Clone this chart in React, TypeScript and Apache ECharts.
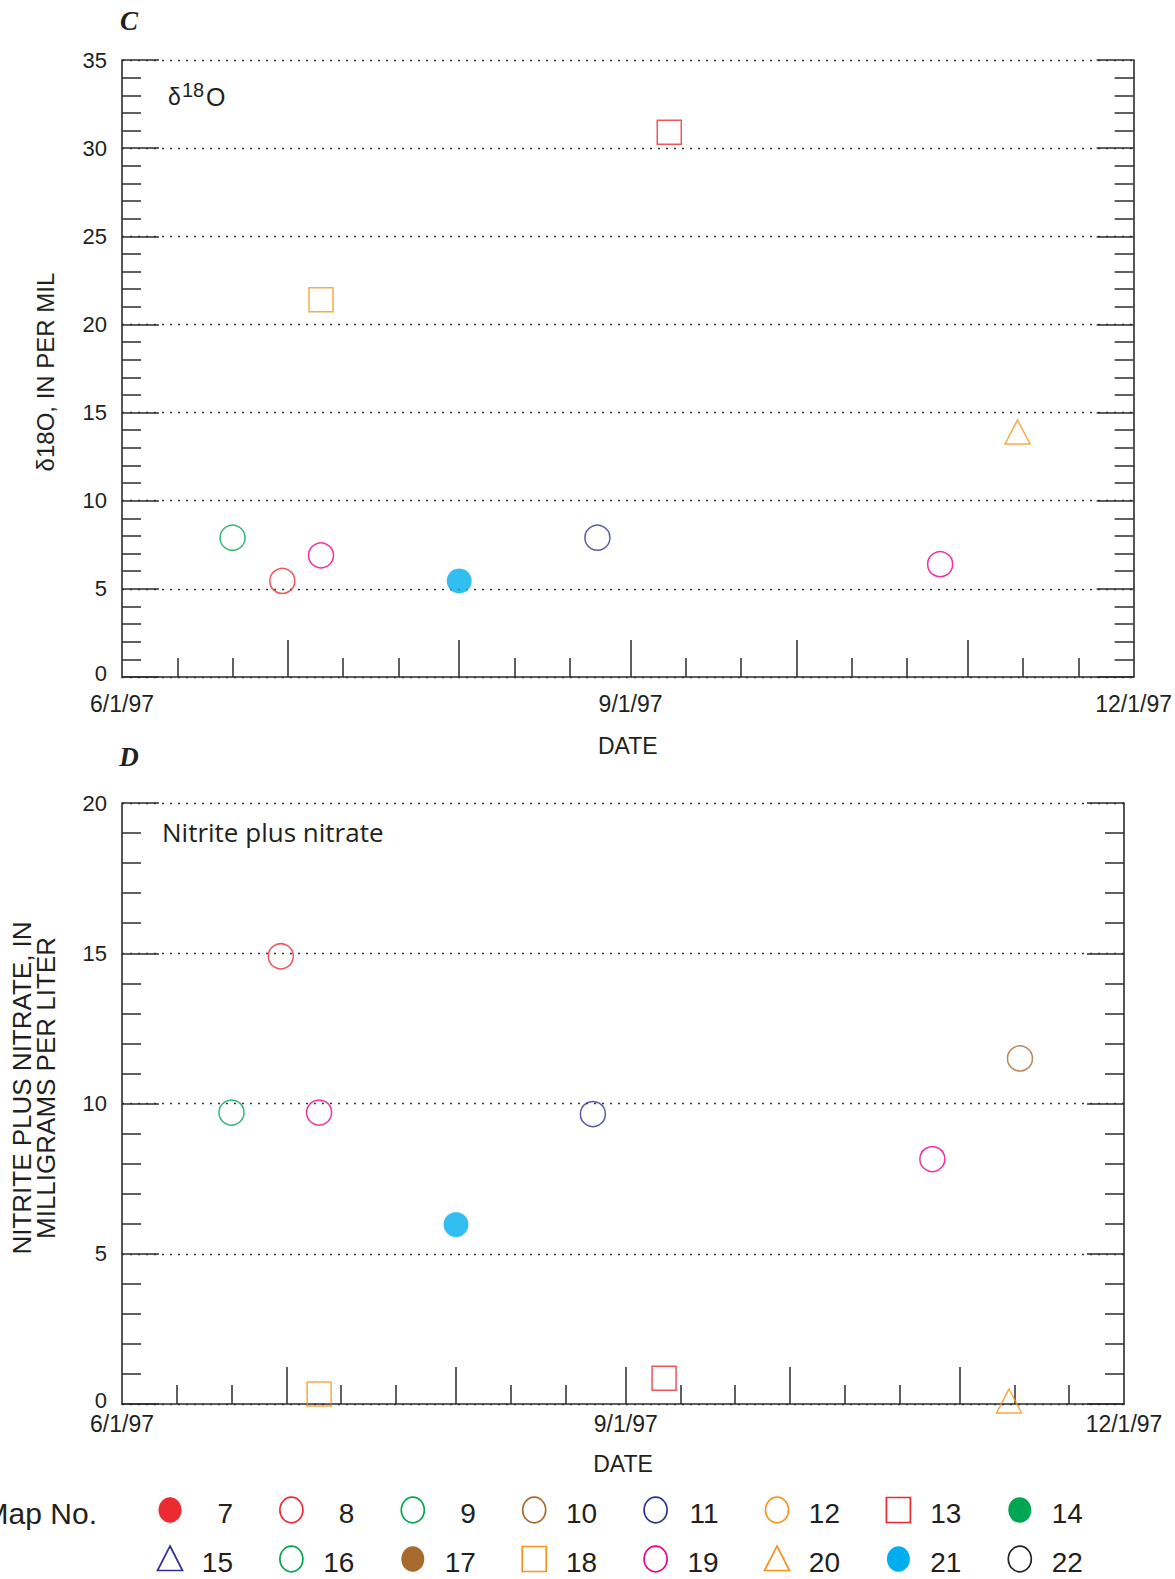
import React, { useEffect, useRef } from 'react';
import * as echarts from 'echarts';

const FONT = '"Liberation Sans", Arial, Helvetica, sans-serif';
const WIDE = '"Open Sans", "Liberation Sans", Arial, sans-serif';
const SERIF = '"Liberation Serif", "Times New Roman", serif';
const INK = '#231f20';
const RULE = '#2b2b2b';

// Date axis extent and tick positions
const dateStart = '1997-06-01';
const dateEnd = '1997-12-01';
const monthTicks = ['1997-07-01', '1997-08-01', '1997-09-01', '1997-10-01', '1997-11-01'];
const tenDayTicks = [
  '1997-06-11', '1997-06-21', '1997-07-11', '1997-07-21', '1997-08-11', '1997-08-21',
  '1997-09-11', '1997-09-21', '1997-10-11', '1997-10-21', '1997-11-11', '1997-11-21',
];
const dateLabels = ['1997-06-01', '1997-09-01', '1997-12-01'];

// Sampling sites (map numbers) and their symbols
const mapNumbers = [7, 8, 9, 10, 11, 12, 13, 14, 15, 16, 17, 18, 19, 20, 21, 22];
const mapColors = [
  '#ec2a30', '#ec2a30', '#00a651', '#a8692e', '#2e3192', '#f7941d', '#ec2a30', '#00a651',
  '#2e3192', '#00a651', '#a8692e', '#f7941d', '#ec008c', '#f7941d', '#00aeef', '#231f20',
];
const mapShapes = [
  'circle', 'circle', 'circle', 'circle', 'circle', 'circle', 'rect', 'circle',
  'triangle', 'circle', 'circle', 'rect', 'circle', 'triangle', 'circle', 'circle',
];
const mapFilled = [
  true, false, false, false, false, false, false, true,
  false, false, true, false, false, false, true, false,
];

// Panel C: delta oxygen-18, per mil
const o18MapNo = [9, 8, 18, 19, 21, 11, 13, 19, 20];
const o18Dates = [
  '1997-06-21', '1997-06-30', '1997-07-07', '1997-07-07', '1997-08-01',
  '1997-08-26', '1997-09-08', '1997-10-27', '1997-11-10',
];
const o18Values = [7.9, 5.45, 21.4, 6.9, 5.45, 7.9, 30.9, 6.4, 13.9];

// Panel D: nitrite plus nitrate, mg/L
const no3MapNo = [9, 8, 18, 19, 21, 11, 13, 19, 20, 10];
const no3Dates = [
  '1997-06-21', '1997-06-30', '1997-07-07', '1997-07-07', '1997-08-01',
  '1997-08-26', '1997-09-08', '1997-10-27', '1997-11-10', '1997-11-12',
];
const no3Values = [9.7, 14.9, 0.33, 9.7, 5.97, 9.65, 0.86, 8.15, 0.1, 11.5];

const ts = (d: string) => {
  const [y, m, dd] = d.split('-').map(Number);
  return Date.UTC(y, m - 1, dd);
};
const fmtDate = (v: number) => {
  const d = new Date(v);
  return `${d.getUTCMonth() + 1}/${d.getUTCDate()}/${String(d.getUTCFullYear()).slice(2)}`;
};

const tickLine = { color: RULE, width: 1.5 };

function dateAxes(grid: number, labelMargin: number, nameGap: number) {
  const base = {
    type: 'value',
    gridIndex: grid,
    min: ts(dateStart),
    max: ts(dateEnd),
    position: 'bottom',
    splitLine: { show: false },
  };
  return [
    {
      ...base,
      axisLine: { show: true, onZero: false, lineStyle: { color: RULE, width: 1.6 } },
      axisTick: { show: true, inside: true, length: 37, customValues: monthTicks.map(ts), lineStyle: tickLine },
      axisLabel: {
        show: true,
        customValues: dateLabels.map(ts),
        formatter: (v: number) => fmtDate(v),
        margin: labelMargin,
        fontSize: 23,
        fontFamily: FONT,
        color: INK,
        showMinLabel: true,
        showMaxLabel: true,
      },
      name: 'DATE',
      nameLocation: 'middle',
      nameGap,
      nameTextStyle: { fontSize: 23, fontFamily: FONT, color: INK },
    },
    {
      ...base,
      axisLine: { show: false },
      axisTick: { show: true, inside: true, length: 19, customValues: tenDayTicks.map(ts), lineStyle: tickLine },
      axisLabel: { show: false },
    },
  ];
}

function valueAxes(grid: number, max: number) {
  const ticks = {
    axisTick: { show: true, inside: true, length: 37, lineStyle: tickLine },
    minorTick: { show: true, splitNumber: 5, length: 19, lineStyle: tickLine },
  };
  const base = { type: 'value', gridIndex: grid, min: 0, max, interval: 5 };
  return [
    {
      ...base,
      ...ticks,
      position: 'left',
      axisLine: { show: true, onZero: false, lineStyle: { color: RULE, width: 1.6 } },
      axisLabel: {
        fontSize: 22,
        fontFamily: FONT,
        color: INK,
        margin: 15,
        // the zero label sits a little above the baseline, clear of the date labels
        formatter: (v: number) => (v === 0 ? '{zero|0}' : String(v)),
        rich: { zero: { fontSize: 22, fontFamily: FONT, color: INK, padding: [0, 0, 8, 0] } },
      },
      splitLine: { show: true, lineStyle: { type: [2, 6], color: '#333', width: 1.4 } },
    },
    {
      ...base,
      ...ticks,
      position: 'right',
      axisLine: { show: true, onZero: false, lineStyle: { color: RULE, width: 1.6 } },
      axisLabel: { show: false },
      splitLine: { show: false },
    },
  ];
}

function buildSeries(mapNos: number[], dates: string[], values: number[], panel: number) {
  const sites = Array.from(new Set(mapNos));
  return sites.map((no) => {
    const k = mapNumbers.indexOf(no);
    const color = mapColors[k];
    const shape = mapShapes[k];
    const size = shape === 'circle' ? 25 : shape === 'rect' ? 24 : [25, 24];
    return {
      type: 'scatter',
      name: `Map ${no}`,
      xAxisIndex: panel * 2,
      yAxisIndex: panel * 2,
      symbol: shape,
      symbolSize: size,
      clip: false,
      z: 5,
      itemStyle: mapFilled[k]
        ? { color, borderWidth: 0 }
        : { color: 'rgba(255,255,255,0)', borderColor: color, borderWidth: 1.5 },
      data: mapNos
        .map((m, i) => (m === no ? [ts(dates[i]), values[i]] : null))
        .filter((p) => p !== null),
    };
  });
}

function legendGraphics() {
  const els: any[] = [
    {
      type: 'text',
      x: 97,
      y: 1513,
      silent: true,
      style: {
        text: 'Map No.',
        align: 'right',
        verticalAlign: 'middle',
        fontSize: 30,
        fontFamily: FONT,
        fill: INK,
      },
    },
  ];
  mapNumbers.forEach((no, i) => {
    const row = Math.floor(i / 8);
    const col = i % 8;
    const cx = 170 + col * 121.4;
    const cy = 1510 + row * 49;
    const color = mapColors[i];
    const style = mapFilled[i]
      ? { fill: color, stroke: null }
      : { fill: 'none', stroke: color, lineWidth: 1.7 };
    const shape = mapShapes[i];
    if (shape === 'circle') {
      els.push({ type: 'ellipse', silent: true, shape: { cx, cy, rx: 11.5, ry: 12.8 }, style });
    } else if (shape === 'rect') {
      els.push({ type: 'rect', silent: true, shape: { x: cx - 12, y: cy - 12.5, width: 24, height: 25 }, style });
    } else {
      els.push({
        type: 'polygon',
        silent: true,
        shape: { points: [[cx, cy - 13], [cx + 12.5, cy + 11.5], [cx - 12.5, cy + 11.5]] },
        style,
      });
    }
    els.push({
      type: 'text',
      silent: true,
      x: cx + 63,
      y: cy + 3,
      style: {
        text: String(no),
        align: 'right',
        verticalAlign: 'middle',
        fontSize: 28,
        fontFamily: FONT,
        fill: INK,
      },
    });
  });
  return els;
}

function annotationGraphics() {
  const txt = (text: string, x: number, y: number, extra: any = {}, rotation = 0) => ({
    type: 'text',
    silent: true,
    x,
    y,
    rotation,
    style: {
      text,
      align: 'center',
      verticalAlign: 'middle',
      fontSize: 22,
      fontFamily: FONT,
      fill: INK,
      ...extra,
    },
  });
  return [
    txt('C', 129, 21, { fontFamily: SERIF, fontStyle: 'italic', fontWeight: 'bold', fontSize: 27 }),
    txt('D', 129, 757, { fontFamily: SERIF, fontStyle: 'italic', fontWeight: 'bold', fontSize: 27 }),
    // panel C title: delta 18 O with raised mass number
    txt('δ', 168, 97, { align: 'left', fontSize: 23 }),
    txt('18', 182, 90, { align: 'left', fontSize: 20 }),
    txt('O', 206, 97, { align: 'left', fontSize: 25 }),
    txt('Nitrite plus nitrate', 162, 832, { align: 'left', fontSize: 26, fontFamily: WIDE }),
    txt('δ18O, IN PER MIL', 45, 372, { fontSize: 24 }, Math.PI / 2),
    txt('NITRITE PLUS NITRATE, IN', 22, 1088, { fontSize: 26 }, Math.PI / 2),
    txt('MILLIGRAMS PER LITER', 46, 1088, { fontSize: 26 }, Math.PI / 2),
  ];
}

function buildOption() {
  return {
    animation: false,
    backgroundColor: '#ffffff',
    grid: [
      { left: 122, top: 60, width: 1012, height: 617 },
      { left: 122, top: 803, width: 1002, height: 601 },
    ],
    xAxis: [...dateAxes(0, 15, 57), ...dateAxes(1, 8, 48)],
    yAxis: [...valueAxes(0, 35), ...valueAxes(1, 20)],
    series: [
      ...buildSeries(o18MapNo, o18Dates, o18Values, 0),
      ...buildSeries(no3MapNo, no3Dates, no3Values, 1),
    ],
    graphic: [...annotationGraphics(), ...legendGraphics()],
  };
}

export default function App() {
  const ref = useRef<HTMLDivElement>(null);
  useEffect(() => {
    document.body.style.margin = '0';
    const chart = echarts.init(ref.current as HTMLDivElement, null, { renderer: 'svg' });
    chart.setOption(buildOption() as any);
    return () => chart.dispose();
  }, []);
  return <div ref={ref} style={{ width: 1175, height: 1579 }} />;
}
